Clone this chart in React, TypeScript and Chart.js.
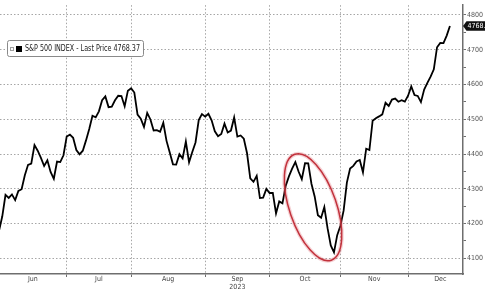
import React, { useEffect, useRef } from 'react';
import { Chart, registerables } from 'chart.js';

Chart.register(...registerables);

// ---------------- data ----------------
const seriesName = 'S&P 500 INDEX - Last Price';
const yearLabel = '2023';
const monthLabels = ['Jun', 'Jul', 'Aug', 'Sep', 'Oct', 'Nov', 'Dec'];
const monthTradingDays = [21, 20, 23, 20, 22, 21, 20];

const priorClose = [4179.83]; // May 31
const junCloses = [4221.02, 4282.37, 4273.79, 4283.85, 4267.52, 4293.93, 4298.86, 4338.93, 4369.01, 4372.59, 4425.84, 4409.59, 4388.71, 4365.69, 4381.89, 4348.33, 4328.82, 4378.41, 4376.86, 4396.44, 4450.38];
const julCloses = [4455.59, 4446.82, 4411.59, 4398.95, 4409.53, 4439.26, 4472.16, 4510.04, 4505.42, 4522.79, 4554.98, 4565.72, 4534.87, 4536.34, 4554.64, 4567.46, 4566.75, 4537.41, 4582.23, 4588.96];
const augCloses = [4576.73, 4513.39, 4501.89, 4478.03, 4518.44, 4499.38, 4467.71, 4468.83, 4464.05, 4489.72, 4437.86, 4404.33, 4370.36, 4369.71, 4399.77, 4387.55, 4436.01, 4376.31, 4405.71, 4433.31, 4497.63, 4514.87, 4507.66];
const sepCloses = [4515.77, 4496.83, 4465.48, 4451.14, 4457.49, 4487.46, 4461.90, 4467.44, 4505.10, 4450.32, 4453.53, 4443.95, 4402.20, 4330.00, 4320.06, 4337.44, 4273.53, 4274.51, 4299.70, 4288.05];
const octCloses = [4288.39, 4229.45, 4263.75, 4258.19, 4308.50, 4335.66, 4358.24, 4376.95, 4349.61, 4327.78, 4373.63, 4373.20, 4314.60, 4278.00, 4224.16, 4217.04, 4247.68, 4186.77, 4137.23, 4117.37, 4166.82, 4193.80];
const novCloses = [4237.86, 4317.78, 4358.34, 4365.98, 4378.38, 4382.78, 4347.35, 4415.24, 4411.55, 4495.70, 4502.88, 4508.24, 4514.02, 4547.38, 4538.19, 4556.62, 4559.34, 4550.43, 4554.89, 4550.58, 4567.80];
const decCloses = [4594.63, 4569.78, 4567.18, 4549.34, 4585.59, 4604.37, 4622.44, 4643.70, 4707.09, 4719.55, 4719.19, 4740.56, 4768.37];

const yMajorTicks = [4100, 4200, 4300, 4400, 4500, 4600, 4700, 4800];
const yMinorTicks = [4150, 4250, 4350, 4450, 4550, 4650, 4750];

// annotation (trading-day index, price)
const ellipseCenter = { x: 96.5, y: 4247 };

// ---------------- derived ----------------
const allCloses = [...priorClose, ...junCloses, ...julCloses, ...augCloses, ...sepCloses, ...octCloses, ...novCloses, ...decCloses];
const points = allCloses.map((v, i) => ({ x: i - priorClose.length, y: v }));
const lastPrice = decCloses[decCloses.length - 1];

const monthEnds: number[] = [];
{
  let acc = -1;
  for (const d of monthTradingDays) {
    acc += d;
    monthEnds.push(acc);
  }
}
const gridValues = monthEnds.slice(0, monthEnds.length - 1);
const labelPositions = monthEnds.map((e, i) => ((i === 0 ? -1 : monthEnds[i - 1]) + e) / 2);
const labelMap = new Map<number, string | string[]>();
labelPositions.forEach((p, i) => {
  labelMap.set(p, monthLabels[i] === 'Sep' ? [monthLabels[i], yearLabel] : monthLabels[i]);
});
const xTickValues = [...gridValues, ...labelPositions].sort((a, b) => a - b);
const gridSet = new Set(gridValues);

const X_MIN = -0.71;
const X_MAX = 143.06;
const Y_MIN = 4055;
const Y_MAX = 4828;

const FONT = "'DejaVu Sans Condensed', 'Liberation Sans Narrow', 'Liberation Sans', Arial, sans-serif";
const GRID = '#a6a6a6';
const AXIS = '#6e6e6e';
const TRANSPARENT = 'rgba(0,0,0,0)';

const legendPlugin = {
  id: 'bbgLegend',
  afterDraw(chart: any) {
    const ctx = chart.ctx;
    ctx.save();
    const bx = 7.5, by = 40.5, bw = 136, bh = 16;
    ctx.fillStyle = '#ffffff';
    ctx.strokeStyle = '#8a8a8a';
    ctx.lineWidth = 1;
    ctx.beginPath();
    ctx.roundRect(bx, by, bw, bh, 2);
    ctx.fill();
    ctx.stroke();
    ctx.strokeStyle = '#a0a0a0';
    ctx.strokeRect(10.5, 47.5, 3, 3);
    ctx.fillStyle = '#000';
    ctx.fillRect(16, 46, 6, 6);
    const text = `${seriesName} ${lastPrice.toFixed(2)}`;
    ctx.font = `8px ${FONT}`;
    const w = ctx.measureText(text).width;
    const sx = w > 0 ? Math.min(1.3, 115 / w) : 1;
    ctx.translate(25, 49);
    ctx.scale(sx, 1);
    ctx.fillStyle = '#1a1a1a';
    ctx.textBaseline = 'middle';
    ctx.textAlign = 'left';
    ctx.fillText(text, 0, 0);
    ctx.restore();
  },
};

const tagPlugin = {
  id: 'lastTag',
  afterDraw(chart: any) {
    const ctx = chart.ctx;
    const y = chart.scales.y.getPixelForValue(lastPrice);
    const x0 = chart.chartArea.right;
    ctx.save();
    ctx.fillStyle = '#111';
    ctx.beginPath();
    ctx.moveTo(x0, y);
    ctx.lineTo(x0 + 3.5, y - 4.7);
    ctx.lineTo(x0 + 40, y - 4.7);
    ctx.lineTo(x0 + 40, y + 4.7);
    ctx.lineTo(x0 + 3.5, y + 4.7);
    ctx.closePath();
    ctx.fill();
    ctx.fillStyle = '#fff';
    ctx.font = `7px ${FONT}`;
    ctx.textBaseline = 'middle';
    ctx.textAlign = 'left';
    ctx.fillText(lastPrice.toFixed(2), x0 + 4.5, y + 0.5);
    ctx.restore();
  },
};

const ellipsePlugin = {
  id: 'circleAnno',
  afterDatasetsDraw(chart: any) {
    const ctx = chart.ctx;
    const cx = chart.scales.x.getPixelForValue(ellipseCenter.x);
    const cy = chart.scales.y.getPixelForValue(ellipseCenter.y);
    const rot = (-19 * Math.PI) / 180;
    ctx.save();
    ctx.beginPath();
    ctx.ellipse(cx, cy, 23.5, 56, rot, 0, Math.PI * 2);
    ctx.strokeStyle = 'rgba(220, 90, 100, 0.28)';
    ctx.lineWidth = 4;
    ctx.stroke();
    ctx.beginPath();
    ctx.ellipse(cx, cy, 23.5, 56, rot, 0, Math.PI * 2);
    ctx.strokeStyle = '#c2323c';
    ctx.lineWidth = 1.5;
    ctx.stroke();
    ctx.restore();
  },
};

export default function App() {
  const ref = useRef<HTMLCanvasElement | null>(null);

  useEffect(() => {
    if (!ref.current) return;
    const chart = new Chart(ref.current, {
      type: 'line',
      data: {
        datasets: [
          {
            label: seriesName,
            data: points,
            borderColor: '#000',
            borderWidth: 1.8,
            pointRadius: 0,
            tension: 0,
            fill: false,
          },
        ],
      },
      options: {
        responsive: false,
        maintainAspectRatio: false,
        devicePixelRatio: 1,
        animation: false,
        events: [],
        layout: { padding: 0 },
        parsing: false,
        plugins: {
          legend: { display: false },
          tooltip: { enabled: false },
          title: { display: false },
        },
        scales: {
          x: {
            type: 'linear',
            min: X_MIN,
            max: X_MAX,
            afterBuildTicks: (s: any) => {
              s.ticks = xTickValues.map((v) => ({ value: v }));
            },
            afterFit: (s: any) => {
              s.height = 18;
            },
            grid: {
              color: (c: any) => (c.tick && gridSet.has(c.tick.value) ? GRID : TRANSPARENT),
              tickColor: (c: any) => (c.tick && gridSet.has(c.tick.value) ? AXIS : TRANSPARENT),
              lineWidth: 1,
              tickLength: 3,
              drawTicks: true,
            },
            border: { display: true, color: AXIS, width: 1.5, dash: [1.5, 2] },
            ticks: {
              autoSkip: false,
              maxRotation: 0,
              minRotation: 0,
              padding: -1,
              color: '#444',
              font: { family: FONT, size: 7, lineHeight: 1.05 },
              callback: (v: any) => labelMap.get(v) ?? '',
            },
          },
          y: {
            type: 'linear',
            position: 'right',
            min: Y_MIN,
            max: Y_MAX,
            afterBuildTicks: (s: any) => {
              s.ticks = [...yMajorTicks, ...yMinorTicks].sort((a, b) => a - b).map((v) => ({ value: v }));
            },
            afterFit: (s: any) => {
              s.width = 22;
            },
            grid: {
              color: (c: any) => (c.tick && yMajorTicks.includes(c.tick.value) ? GRID : TRANSPARENT),
              tickColor: AXIS,
              lineWidth: 1,
              tickLength: 3,
              drawTicks: true,
            },
            border: { display: true, color: AXIS, width: 1.5, dash: [1.5, 2] },
            ticks: {
              padding: 1,
              color: '#555',
              font: { family: FONT, size: 7 },
              callback: (v: any) => (yMajorTicks.includes(v) ? String(v) : ''),
            },
          },
        },
      },
      plugins: [ellipsePlugin, legendPlugin, tagPlugin],
    } as any);
    return () => chart.destroy();
  }, []);

  return (
    <div style={{ position: 'absolute', left: 0, top: 0, width: 485, height: 292, background: '#fff' }}>
      <canvas ref={ref} width={485} height={292} style={{ display: 'block', width: 485, height: 292 }} />
    </div>
  );
}
